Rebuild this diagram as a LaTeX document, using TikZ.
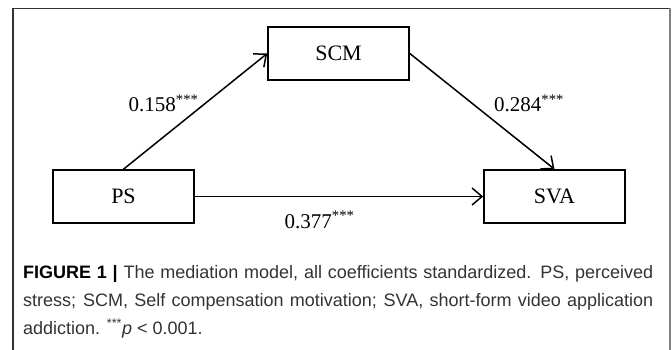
\documentclass[tikz,border=0pt]{standalone}
\usepackage{fontspec}
\setmainfont{Liberation Serif}
\newfontfamily\capfont{Liberation Sans}
\usetikzlibrary{arrows.meta}

\begin{document}
\begin{tikzpicture}[x=1pt,y=-1pt,
  var/.style={draw, line width=1.6pt, minimum width=141pt, minimum height=53pt,
    inner sep=0pt, font=\fontsize{22}{24}\selectfont},
  effect/.style={line width=1.5pt,
    -{Straight Barb[length=10pt,width=17pt,line width=1.5pt]}},
  coef/.style={anchor=base west, inner sep=0pt, font=\fontsize{21}{24}\selectfont},
  caption/.style={anchor=north west, inner sep=0pt, text width=630pt, align=justify,
    font=\capfont\fontsize{18}{28}\selectfont, text=black!80}]
\useasboundingbox (0,0) rectangle (672,350);

% panel frame
\draw[line width=1.5pt, black!80] (13,350) -- (13,8.5) -- (670,8.5);
\draw[line width=2pt, black!50] (670,8.5) -- (670,350);

% variables
\node[var] (scm) at (338.5,53.5) {SCM};
\node[var] (ps)  at (123.5,196.5) {PS};
\node[var] (sva) at (554.5,196.5) {SVA};

% paths
\draw[effect] (ps.north) -- (scm.west);
\draw[effect] (scm.east) -- (sva.north);
\draw[effect] (ps.east) -- (sva.west);

% coefficients
\node[coef] (a) at (128.5,112) {0.158\textsuperscript{***}};
\node[coef] (b) at (494,112) {0.284\textsuperscript{***}};
\node[coef] (c) at (284.5,228) {0.377\textsuperscript{***}};

% caption
\node[caption] (cap) at (23,265) {{\bfseries\color{black}FIGURE 1 \textbar} The mediation model, all coefficients standardized. PS, perceived\linebreak
stress; SCM, Self compensation motivation; SVA, short-form video application\linebreak
addiction. \textsuperscript{***}\textit{p} \textless{} 0.001.};
\end{tikzpicture}
\end{document}
